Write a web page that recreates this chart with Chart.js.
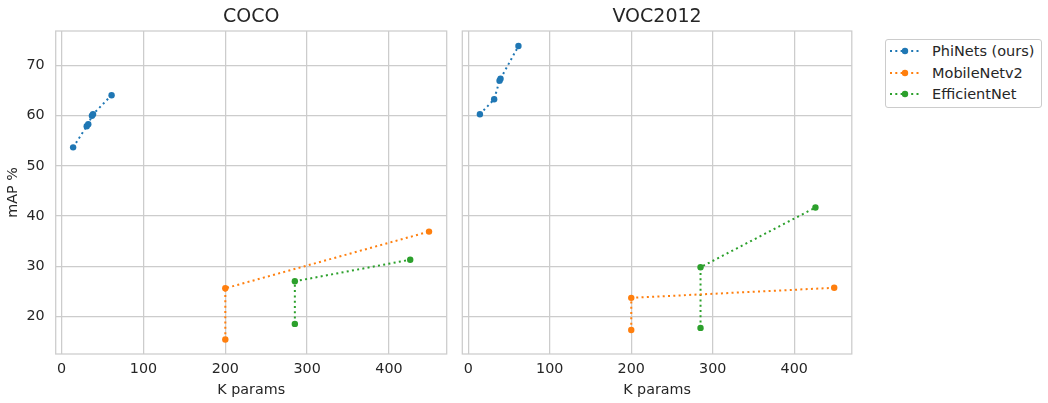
<!DOCTYPE html>
<html>
<head>
<meta charset="utf-8">
<script src="https://cdn.jsdelivr.net/npm/chart.js@4/dist/chart.umd.min.js"></script>
<style>
  body { margin: 0; background: #fff; font-family: "DejaVu Sans", sans-serif; color: #262626; }
  #wrap { position: relative; width: 1048px; height: 403px; }
  #c1 { position: absolute; left: 0; top: 0; }
  #c2 { position: absolute; left: 455px; top: 0; }
  #legend { position: absolute; left: 885px; top: 39px; width: 155px; height: 67px;
            border: 1px solid #cccccc; border-radius: 3px; font-size: 14.5px; }
  .row { position: absolute; left: 0; height: 20px; line-height: 20px; white-space: nowrap; }
  .row svg { position: absolute; left: 3px; top: 4px; }
  .row span { position: absolute; left: 46px; top: 0; }
</style>
</head>
<body>
<div id="wrap">
  <canvas id="c1" width="455" height="403"></canvas>
  <canvas id="c2" width="400" height="403"></canvas>
  <div id="legend"></div>
</div>
<script>
const seriesNames = ["PhiNets (ours)", "MobileNetv2", "EfficientNet"];
const seriesColors = ["#1f77b4", "#ff7f0e", "#2ca02c"];
const xTicks = [0, 100, 200, 300, 400];
const yTicks = [20, 30, 40, 50, 60, 70];

// COCO
const cocoPhiX = [14, 30.6, 32.5, 37, 38.3, 61];
const cocoPhiY = [53.7, 57.9, 58.3, 60.0, 60.3, 64.1];
const cocoMobX = [200, 200, 449];
const cocoMobY = [15.4, 25.6, 36.9];
const cocoEffX = [285, 285, 426];
const cocoEffY = [18.5, 27.0, 31.3];

// VOC2012
const vocPhiX = [14.3, 31.8, 38.4, 39.6, 61.6];
const vocPhiY = [60.3, 63.3, 67.0, 67.4, 73.9];
const vocMobX = [200, 200, 449];
const vocMobY = [17.3, 23.7, 25.7];
const vocEffX = [285, 285, 426];
const vocEffY = [17.7, 29.8, 41.7];

const TEXT = "#262626";
const GRID = "#cccccc";
const FONT = "DejaVu Sans";

function pts(xs, ys) {
    return xs.map((x, i) => ({x: x, y: ys[i]}));
}

function makeSets(lists) {
    return lists.map((l, i) => ({
        label: seriesNames[i],
        data: pts(l[0], l[1]),
        showLine: true,
        borderColor: seriesColors[i],
        backgroundColor: seriesColors[i],
        borderWidth: 2,
        borderDash: [2, 3.3],
        pointRadius: 3.2,
        pointBorderWidth: 0,
        pointHoverRadius: 3.2,
        tension: 0
    }));
}

// light grey box round the plot area, like the seaborn spines
const frame = {
    id: "frame",
    beforeDatasetsDraw(chart) {
        const a = chart.chartArea;
        const ctx = chart.ctx;
        ctx.save();
        ctx.strokeStyle = GRID;
        ctx.lineWidth = 1.25;
        ctx.strokeRect(a.left, a.top, a.right - a.left, a.bottom - a.top);
        ctx.restore();
    }
};

function makeChart(el, title, sets, showY, yWidth, padRight) {
    return new Chart(document.getElementById(el), {
        type: "scatter",
        data: { datasets: makeSets(sets) },
        options: {
            responsive: false,
            animation: false,
            layout: { padding: { left: 0, right: padRight, top: 0, bottom: 0 } },
            plugins: {
                legend: { display: false },
                tooltip: { enabled: false },
                title: {
                    display: true,
                    text: title,
                    fullSize: false,
                    color: TEXT,
                    font: { family: FONT, size: 19, weight: "normal", lineHeight: 1 },
                    padding: { top: 8, bottom: 4 }
                }
            },
            scales: {
                x: {
                    type: "linear",
                    min: -7.3,
                    max: 470.6,
                    afterBuildTicks: s => { s.ticks = xTicks.map(v => ({value: v})); },
                    afterFit: s => { s.height = 49; },
                    grid: { color: GRID, lineWidth: 1.25, drawTicks: false },
                    border: { display: false },
                    ticks: { color: TEXT, padding: 7, font: { family: FONT, size: 14.3 } },
                    title: {
                        display: true, text: "K params", color: TEXT,
                        font: { family: FONT, size: 14.3 }, padding: { top: 0, bottom: 4.4 }
                    }
                },
                y: {
                    type: "linear",
                    min: 12.5,
                    max: 76.9,
                    afterBuildTicks: s => { s.ticks = yTicks.map(v => ({value: v})); },
                    afterFit: s => { s.width = yWidth; },
                    grid: { color: GRID, lineWidth: 1.25, drawTicks: false },
                    border: { display: false },
                    ticks: { display: showY, color: TEXT, padding: 11, font: { family: FONT, size: 14.3 } },
                    title: {
                        display: showY, text: "mAP %", color: TEXT,
                        font: { family: FONT, size: 14.3 }, padding: { top: 5, bottom: 0 }
                    }
                }
            }
        },
        plugins: [frame]
    });
}

makeChart("c1", "COCO", [[cocoPhiX, cocoPhiY], [cocoMobX, cocoMobY], [cocoEffX, cocoEffY]], true, 55.7, 8.3);
makeChart("c2", "VOC2012", [[vocPhiX, vocPhiY], [vocMobX, vocMobY], [vocEffX, vocEffY]], false, 7.3, 1.3);

// legend
const legend = document.getElementById("legend");
seriesNames.forEach((name, i) => {
    const row = document.createElement("div");
    row.className = "row";
    row.style.top = (1 + i * 21.7) + "px";
    row.innerHTML =
        '<svg width="32" height="12"><line x1="1" y1="6" x2="31" y2="6" stroke="' + seriesColors[i] +
        '" stroke-width="2" stroke-dasharray="2 3.3"/><circle cx="16" cy="6" r="3.2" fill="' + seriesColors[i] +
        '"/></svg><span>' + name + '</span>';
    legend.appendChild(row);
});
</script>
</body>
</html>
